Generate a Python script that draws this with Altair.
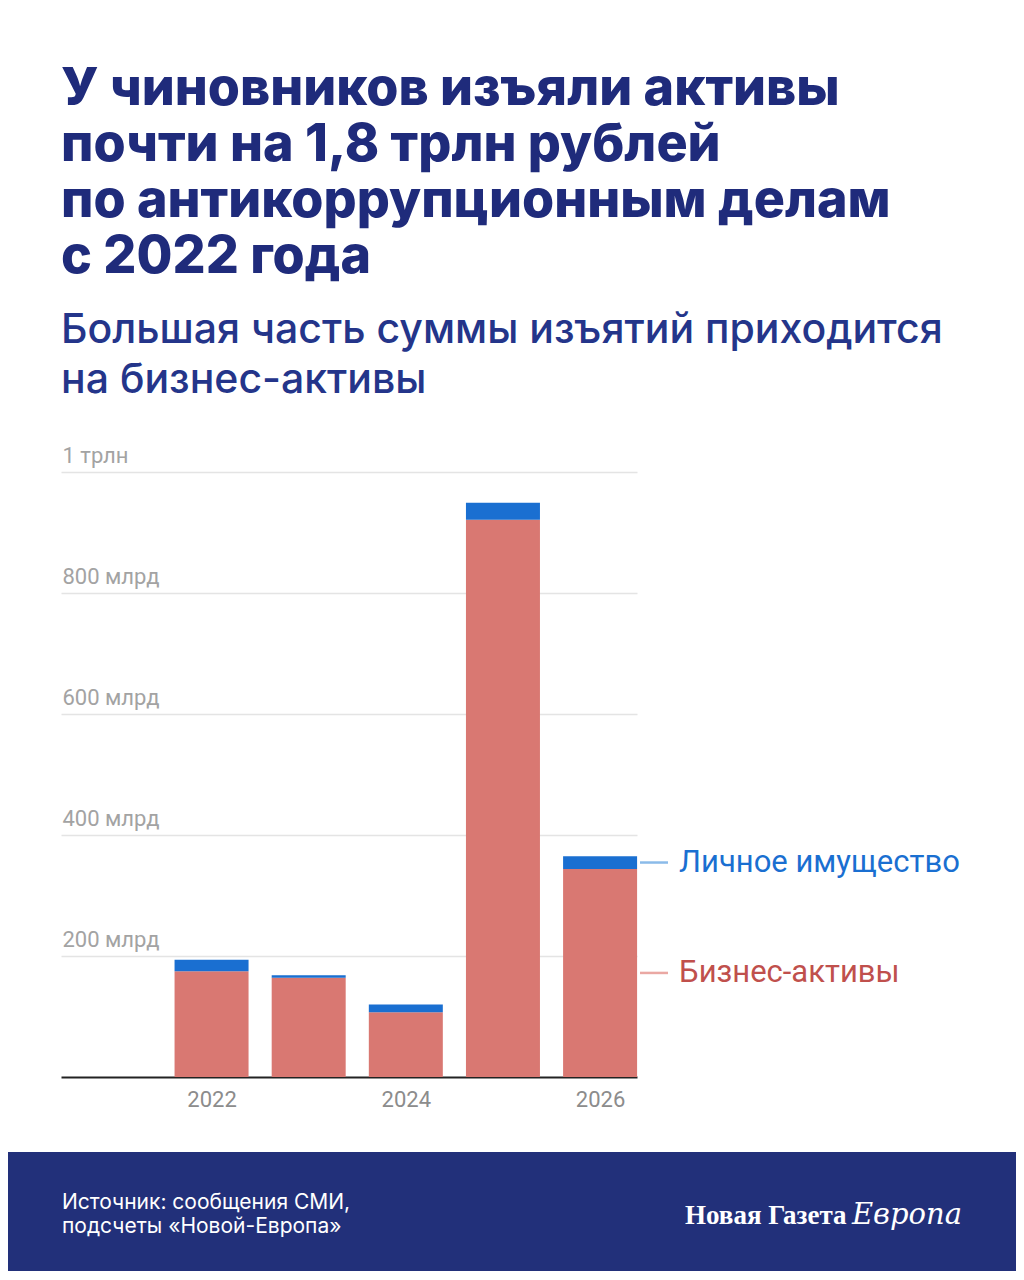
import altair as alt
import pandas as pd

# ---- data (billions of rubles) ----
years = [2022, 2023, 2024, 2025, 2026]
business = [175, 164, 107, 921, 344]   # Бизнес-активы
personal = [19, 4, 13, 28, 21]         # Личное имущество
series_names = ["Бизнес-активы", "Личное имущество"]
bar_colors = ["#d97872", "#1a6fd1"]
label_colors = ["#c0504c", "#1a6fd1"]
line_colors = ["#eaa8a3", "#8bbbe9"]
y_ticks = [200, 400, 600, 800, 1000]
x_ticks = [2022, 2024, 2026]

title_lines = ["У чиновников изъяли активы", "почти на 1,8 трлн рублей",
               "по антикоррупционным делам", "с 2022 года"]
subtitle_lines = ["Большая часть суммы изъятий приходится", "на бизнес-активы"]
source_lines = ["Источник: сообщения СМИ,", "подсчеты «Новой-Европа»"]

rows = []
for i, y in enumerate(years):
    rows.append({"year": y, "series": series_names[0], "value": business[i], "ord": 0})
    rows.append({"year": y, "series": series_names[1], "value": personal[i], "ord": 1})
df = pd.DataFrame(rows)

lab = pd.DataFrame({
    "year": [years[-1], years[-1]],
    "series": series_names,
    "mid": [business[-1] / 2, business[-1] + personal[-1] / 2],
})

NAVY = "#1f2b7b"
xscale = alt.Scale(domain=[2020.45, 2026.38], nice=False, zero=False, padding=0)
yscale = alt.Scale(domain=[0, 1000], nice=False)

bars = alt.Chart(df).mark_bar(size=74).encode(
    x=alt.X("year:Q", scale=xscale,
            axis=alt.Axis(values=x_ticks, format="d", title=None, grid=False, ticks=False,
                          labelFont="Roboto", labelFontSize=22, labelColor="#8c8c8c",
                          labelPadding=12, domainColor="#222222", domainWidth=2)),
    y=alt.Y("value:Q", stack="zero", scale=yscale,
            axis=alt.Axis(values=y_ticks, title=None, domain=False, ticks=False, tickSize=0,
                          labelAlign="left", labelBaseline="alphabetic", labelPadding=-1,
                          labelOffset=-10,
                          labelFont="Roboto", labelFontSize=22, labelColor="#a3a3a3",
                          gridColor="#e4e4e4", gridWidth=1.5,
                          labelExpr="datum.value == 1000 ? '1 трлн' : datum.value + ' млрд'")),
    color=alt.Color("series:N", scale=alt.Scale(domain=series_names, range=bar_colors), legend=None),
    order=alt.Order("ord:Q"),
)

lines = alt.Chart(lab).mark_rule(strokeWidth=2.5).encode(
    x=alt.value(579), x2=alt.value(607),
    y=alt.Y("mid:Q", scale=yscale),
    color=alt.Color("series:N", scale=alt.Scale(domain=series_names, range=line_colors), legend=None),
)

labels = alt.Chart(lab).mark_text(align="left", baseline="middle", dx=79, font="Roboto",
                                  fontSize=31).encode(
    x=alt.X("year:Q", scale=xscale),
    y=alt.Y("mid:Q", scale=yscale),
    text="series:N",
    color=alt.Color("series:N", scale=alt.Scale(domain=series_names, range=label_colors), legend=None),
)

one = pd.DataFrame({"a": [0]})

footer = alt.Chart(one).mark_rect(color="#22307a").encode(
    x=alt.value(-53), x2=alt.value(955), y=alt.value(680), y2=alt.value(800))

title = alt.Chart(one).mark_text(text=title_lines, align="left", baseline="alphabetic",
                                 font="Inter", fontWeight=800, fontSize=52, lineHeight=56,
                                 color=NAVY).encode(x=alt.value(0), y=alt.value(-367))

subtitle = alt.Chart(one).mark_text(text=subtitle_lines, align="left", baseline="alphabetic",
                                    font="Inter", fontWeight=500, fontSize=41, lineHeight=50,
                                    color="#24358a").encode(x=alt.value(0), y=alt.value(-129))

source = alt.Chart(one).mark_text(text=source_lines, align="left", baseline="alphabetic",
                                  font="Inter", fontSize=21, lineHeight=24,
                                  color="white").encode(x=alt.value(1), y=alt.value(737))

logo1 = alt.Chart(one).mark_text(text="Новая Газета", align="left", baseline="alphabetic",
                                 font="Liberation Serif", fontWeight="bold", fontSize=27,
                                 color="white").encode(x=alt.value(624), y=alt.value(752))

logo2 = alt.Chart(one).mark_text(text="Европа", align="right", baseline="alphabetic",
                                 font="DejaVu Serif", fontStyle="italic", fontSize=29,
                                 color="white").encode(x=alt.value(901), y=alt.value(752))

chart = alt.layer(footer, bars, lines, labels, title, subtitle, source, logo1, logo2).resolve_scale(
    color="independent"
).properties(
    width=576, height=605,
    padding={"left": 53, "top": 464, "right": 379, "bottom": 194},
    autosize=alt.AutoSizeParams(type="none"),
    background="white",
).configure_view(stroke=None)

chart.save("out.html", embed_options={"renderer": "svg", "actions": False})
